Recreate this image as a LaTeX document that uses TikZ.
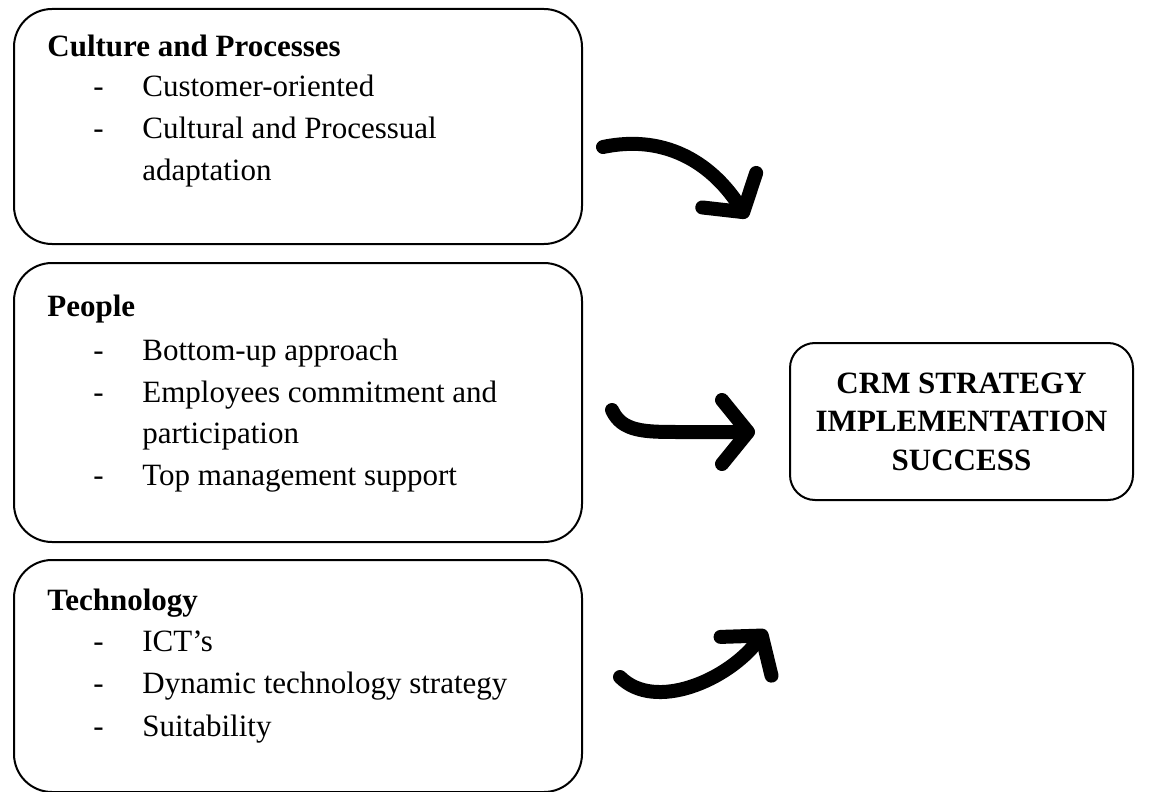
\documentclass[tikz,border=0pt]{standalone}
\usepackage{fontspec}
\setmainfont{Liberation Serif}
\usetikzlibrary{arrows.meta,positioning}

\begin{document}
\begin{tikzpicture}[
  x=0.5pt, y=-0.5pt,
  panel/.style={draw,line width=1pt,rounded corners=19pt,inner sep=0pt,anchor=north west},
  goal/.style={draw,line width=1pt,rounded corners=12.5pt,align=center,inner sep=0pt,
    minimum width=171.5pt,minimum height=78.5pt,
    font=\fontsize{15.5pt}{19.25pt}\selectfont\bfseries},
  head/.style={anchor=base west,inner sep=0pt,font=\fontsize{15.5pt}{21pt}\selectfont\bfseries},
  item/.style={anchor=base west,inner sep=0pt,font=\fontsize{15.5pt}{21pt}\selectfont},
  swoosh/.style={line width=7pt,line cap=round,line join=round,
    -{Straight Barb[length=13pt,width=32pt,round]}}
]
\useasboundingbox (0,0) rectangle (1173,792);
\newcommand{\dashitem}{\makebox[24.5pt][l]{-}}

% three factor boxes on the left
\node[panel, minimum width=284pt, minimum height=117.5pt] (culture) at (13,8) {};
\node[panel, minimum width=284pt, minimum height=139.5pt] (people) at (13,262) {};
\node[panel, minimum width=284pt, minimum height=116pt] (tech) at (13,559) {};

\node[head] (cultureT) at (47,57) {Culture and Processes};
\node[item] (cultureA) at (93,97) {\dashitem Customer-oriented};
\node[item] (cultureB) at (93,139) {\dashitem Cultural and Processual};
\node[item] (cultureB2) at (142,180) {adaptation};

\node[head] (peopleT) at (47,316) {People};
\node[item] (peopleA) at (93,360) {\dashitem Bottom-up approach};
\node[item] (peopleB) at (93,402) {\dashitem Employees commitment and};
\node[item] (peopleB2) at (142,443) {participation};
\node[item] (peopleC) at (93,485) {\dashitem Top management support};

\node[head] (techT) at (47,610) {Technology};
\node[item] (techA) at (93,651) {\dashitem ICT’s};
\node[item] (techB) at (93,693) {\dashitem Dynamic technology strategy};
\node[item] (techC) at (93,736) {\dashitem Suitability};

% outcome
\node[goal] (crm) at (961.5,421.5) {CRM STRATEGY\\IMPLEMENTATION\\SUCCESS};

% hand drawn arrows
\coordinate (s1) at (603,147);
\coordinate (e1) at (747,218);
\coordinate (s2) at (612,410);
\coordinate (e2) at (755,432);
\coordinate (s3) at (620,677);
\coordinate (e3) at (766,630);
\draw[swoosh] (s1) .. controls (670,133) and (715,168) .. (e1);
\draw[swoosh] (s2) .. controls (622,432) and (645,432) .. (680,432) -- (e2);
\draw[swoosh] (s3) .. controls (655,712) and (728,680) .. (e3);
\end{tikzpicture}
\end{document}
